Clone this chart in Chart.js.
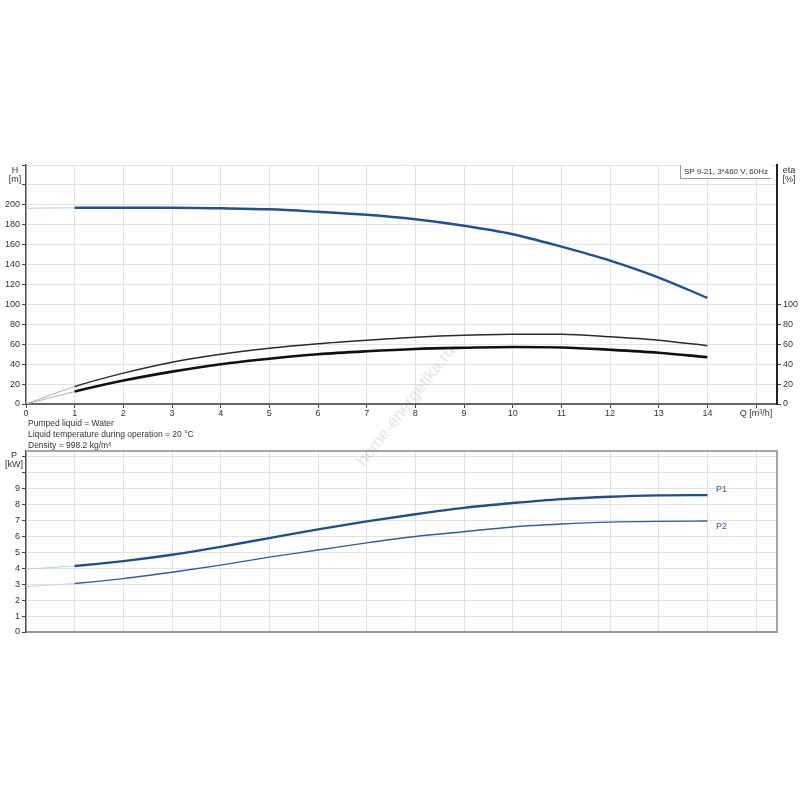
<!DOCTYPE html>
<html>
<head>
<meta charset="utf-8">
<title>SP 9-21 pump curves</title>
<script src="https://cdn.jsdelivr.net/npm/chart.js@4.4.1/dist/chart.umd.min.js"></script>
<style>
    body {
        margin: 0;
        width: 800px;
        height: 800px;
        background: #fff;
        position: relative;
        overflow: hidden;
        font-family: "Liberation Sans", Arial, sans-serif;
        color: #333;
    }
    .box { position: absolute; left: 0; width: 800px; }
    .lbl { position: absolute; font-size: 9px; line-height: 9px; white-space: nowrap; }
    .unit { text-align: center; width: 24px; }
    .note { left: 28px; font-size: 8.5px; }
    .curve { color: #2a5d9a; }
    #typeBox {
        position: absolute;
        right: 29px;
        top: 165px;
        padding: 2px 3px 2px 3px;
        font-size: 8px;
        line-height: 9px;
        background: #fff;
        border-left: 1px solid #999;
        border-bottom: 1px solid #999;
        white-space: nowrap;
    }
    #watermark {
        position: absolute;
        left: 316px;
        top: 396px;
        width: 180px;
        text-align: center;
        font-size: 17px;
        color: rgba(110, 110, 110, 0.2);
        transform: rotate(-52deg);
        pointer-events: none;
    }
</style>
</head>
<body>

<div class="box" style="top:150px;height:275px"><canvas id="headChart"></canvas></div>
<div class="box" style="top:440px;height:205px"><canvas id="powerChart"></canvas></div>

<div class="lbl unit" style="left:3px;top:166px">H</div>
<div class="lbl unit" style="left:3px;top:175px">[m]</div>
<div class="lbl unit" style="left:777px;top:166px">eta</div>
<div class="lbl unit" style="left:777px;top:175px">[%]</div>
<div id="typeBox">SP 9-21, 3*460 V, 60Hz</div>

<div class="lbl note" style="top:419px">Pumped liquid = Water</div>
<div class="lbl note" style="top:430px">Liquid temperature during operation = 20 °C</div>
<div class="lbl note" style="top:441px">Density = 998.2 kg/m³</div>

<div class="lbl unit" style="left:2px;top:451px">P</div>
<div class="lbl unit" style="left:2px;top:460px">[kW]</div>
<div class="lbl curve" style="left:716px;top:485px">P1</div>
<div class="lbl curve" style="left:716px;top:522px">P2</div>

<div id="watermark">home-energetika.ru</div>

<script>
/* =========================================================
   DATOS
   ========================================================= */

const flowQ    = [0, 1, 2, 3, 4, 5, 6, 7, 8, 9, 10, 11, 12, 13, 14];
const headH    = [196.5, 197, 197, 197, 196.5, 195.5, 193, 190, 185.5, 179, 170.5, 158, 144, 127, 106.5];
const etaPump  = [0, 17.5, 31, 42, 50, 56, 60.5, 64, 67, 69, 70, 70, 67.5, 64, 58.5];
const etaTotal = [0, 12.5, 23.5, 32.5, 40, 45.5, 50, 53, 55.3, 56.5, 57.3, 56.8, 54.5, 51.5, 47];
const powerP1  = [3.95, 4.15, 4.45, 4.85, 5.35, 5.9, 6.45, 6.95, 7.4, 7.8, 8.1, 8.35, 8.5, 8.58, 8.6];
const powerP2  = [2.85, 3.05, 3.35, 3.75, 4.2, 4.7, 5.15, 5.6, 6.0, 6.3, 6.6, 6.78, 6.9, 6.95, 6.97];

const qTicks   = [0, 1, 2, 3, 4, 5, 6, 7, 8, 9, 10, 11, 12, 13, 14, 15];
const hTicks   = [0, 20, 40, 60, 80, 100, 120, 140, 160, 180, 200, 220, 240];
const etaTicks = [0, 20, 40, 60, 80, 100];
const pTicks   = [0, 1, 2, 3, 4, 5, 6, 7, 8, 9, 10, 11];

const Q_MAX = 15.43;
const H_MAX = 240;
const P_MAX = 11.37;

Chart.defaults.font.family = '"Liberation Sans", Arial, sans-serif';
Chart.defaults.font.size = 9;
Chart.defaults.color = "#333";


function toPoints(values) {
    return flowQ.map((q, i) => ({ x: q, y: values[i] }));
}

// first segment (0 -> 1 m³/h) is drawn faint and thin
function curve(values, color, width, faintColor, axis) {
    return {
        data: toPoints(values),
        yAxisID: axis,
        borderColor: color,
        borderWidth: width,
        pointRadius: 0,
        fill: false,
        cubicInterpolationMode: "monotone",
        segment: {
            borderColor: ctx => ctx.p0DataIndex === 0 ? faintColor : color,
            borderWidth: ctx => ctx.p0DataIndex === 0 ? 1 : width
        }
    };
}

function fixedTicks(list) {
    return scale => {
        scale.ticks = list.map(value => ({ value }));
    };
}

function fixedSize(prop, size) {
    return scale => {
        scale[prop] = size;
    };
}

const gridColor = "#e3e3e3";


/* =========================================================
   H / eta
   ========================================================= */

function renderHeadChart() {
    const canvas = document.getElementById("headChart");

    new Chart(canvas.getContext("2d"), {
        type: "line",
        data: {
            datasets: [
                curve(etaPump, "#2b2b2b", 1.5, "#b0b0b0", "eta"),
                curve(etaTotal, "#111", 2.6, "#b0b0b0", "eta"),
                curve(headH, "#1f528f", 2.4, "#b9cde3", "y")
            ]
        },
        options: {
            responsive: true,
            maintainAspectRatio: false,
            animation: false,
            layout: { padding: { top: 15 } },
            plugins: {
                legend: { display: false },
                tooltip: { enabled: false }
            },
            scales: {
                x: {
                    type: "linear",
                    min: 0,
                    max: Q_MAX,
                    afterBuildTicks: fixedTicks(qTicks),
                    afterFit: fixedSize("height", 21),
                    grid: { color: gridColor, tickColor: "#444", tickLength: 4 },
                    border: { color: "#666", width: 2 },
                    ticks: {
                        padding: 0,
                        maxRotation: 0,
                        callback(value) {
                            return value === 15 ? "Q [m³/h]" : value;
                        }
                    }
                },
                y: {
                    min: 0,
                    max: H_MAX,
                    afterBuildTicks: fixedTicks(hTicks),
                    afterFit: fixedSize("width", 26),
                    grid: { color: gridColor, tickColor: "#444", tickLength: 4 },
                    border: { color: "#555", width: 1.5 },
                    ticks: {
                        padding: 2,
                        callback(value) {
                            return value > 200 ? "" : value;
                        }
                    }
                },
                eta: {
                    position: "right",
                    min: 0,
                    max: H_MAX,
                    afterBuildTicks: fixedTicks(etaTicks),
                    afterFit: fixedSize("width", 23),
                    grid: { drawOnChartArea: false, tickColor: "#444", tickLength: 4 },
                    border: { color: "#222", width: 2 },
                    ticks: { padding: 2 }
                }
            }
        }
    });
}


/* =========================================================
   P1 / P2
   ========================================================= */

const frameLines = {
    id: "frameLines",
    afterDraw(chart) {
        const { ctx, chartArea } = chart;
        ctx.save();
        ctx.strokeStyle = "#a6a6a6";
        ctx.lineWidth = 2;
        ctx.beginPath();
        ctx.moveTo(chartArea.left, chartArea.top);
        ctx.lineTo(chartArea.right, chartArea.top);
        ctx.lineTo(chartArea.right, chartArea.bottom);
        ctx.stroke();
        ctx.restore();
    }
};

function renderPowerChart() {
    const canvas = document.getElementById("powerChart");

    new Chart(canvas.getContext("2d"), {
        type: "line",
        data: {
            datasets: [
                curve(powerP1, "#1f4f8b", 2.4, "#b9cde3", "y"),
                curve(powerP2, "#2c5f9c", 1.4, "#c4d4e7", "y")
            ]
        },
        options: {
            responsive: true,
            maintainAspectRatio: false,
            animation: false,
            layout: { padding: { top: 11, right: 23 } },
            plugins: {
                legend: { display: false },
                tooltip: { enabled: false }
            },
            scales: {
                x: {
                    type: "linear",
                    min: 0,
                    max: Q_MAX,
                    afterBuildTicks: fixedTicks(qTicks),
                    afterFit: fixedSize("height", 13),
                    grid: { color: gridColor, drawTicks: false },
                    border: { color: "#999", width: 2 },
                    ticks: { display: false }
                },
                y: {
                    min: 0,
                    max: P_MAX,
                    afterBuildTicks: fixedTicks(pTicks),
                    afterFit: fixedSize("width", 26),
                    grid: { color: gridColor, tickColor: "#444", tickLength: 4 },
                    border: { color: "#555", width: 1.5 },
                    ticks: {
                        padding: 2,
                        callback(value) {
                            return value > 9 ? "" : value;
                        }
                    }
                }
            }
        },
        plugins: [frameLines]
    });
}


renderHeadChart();
renderPowerChart();
</script>
</body>
</html>
